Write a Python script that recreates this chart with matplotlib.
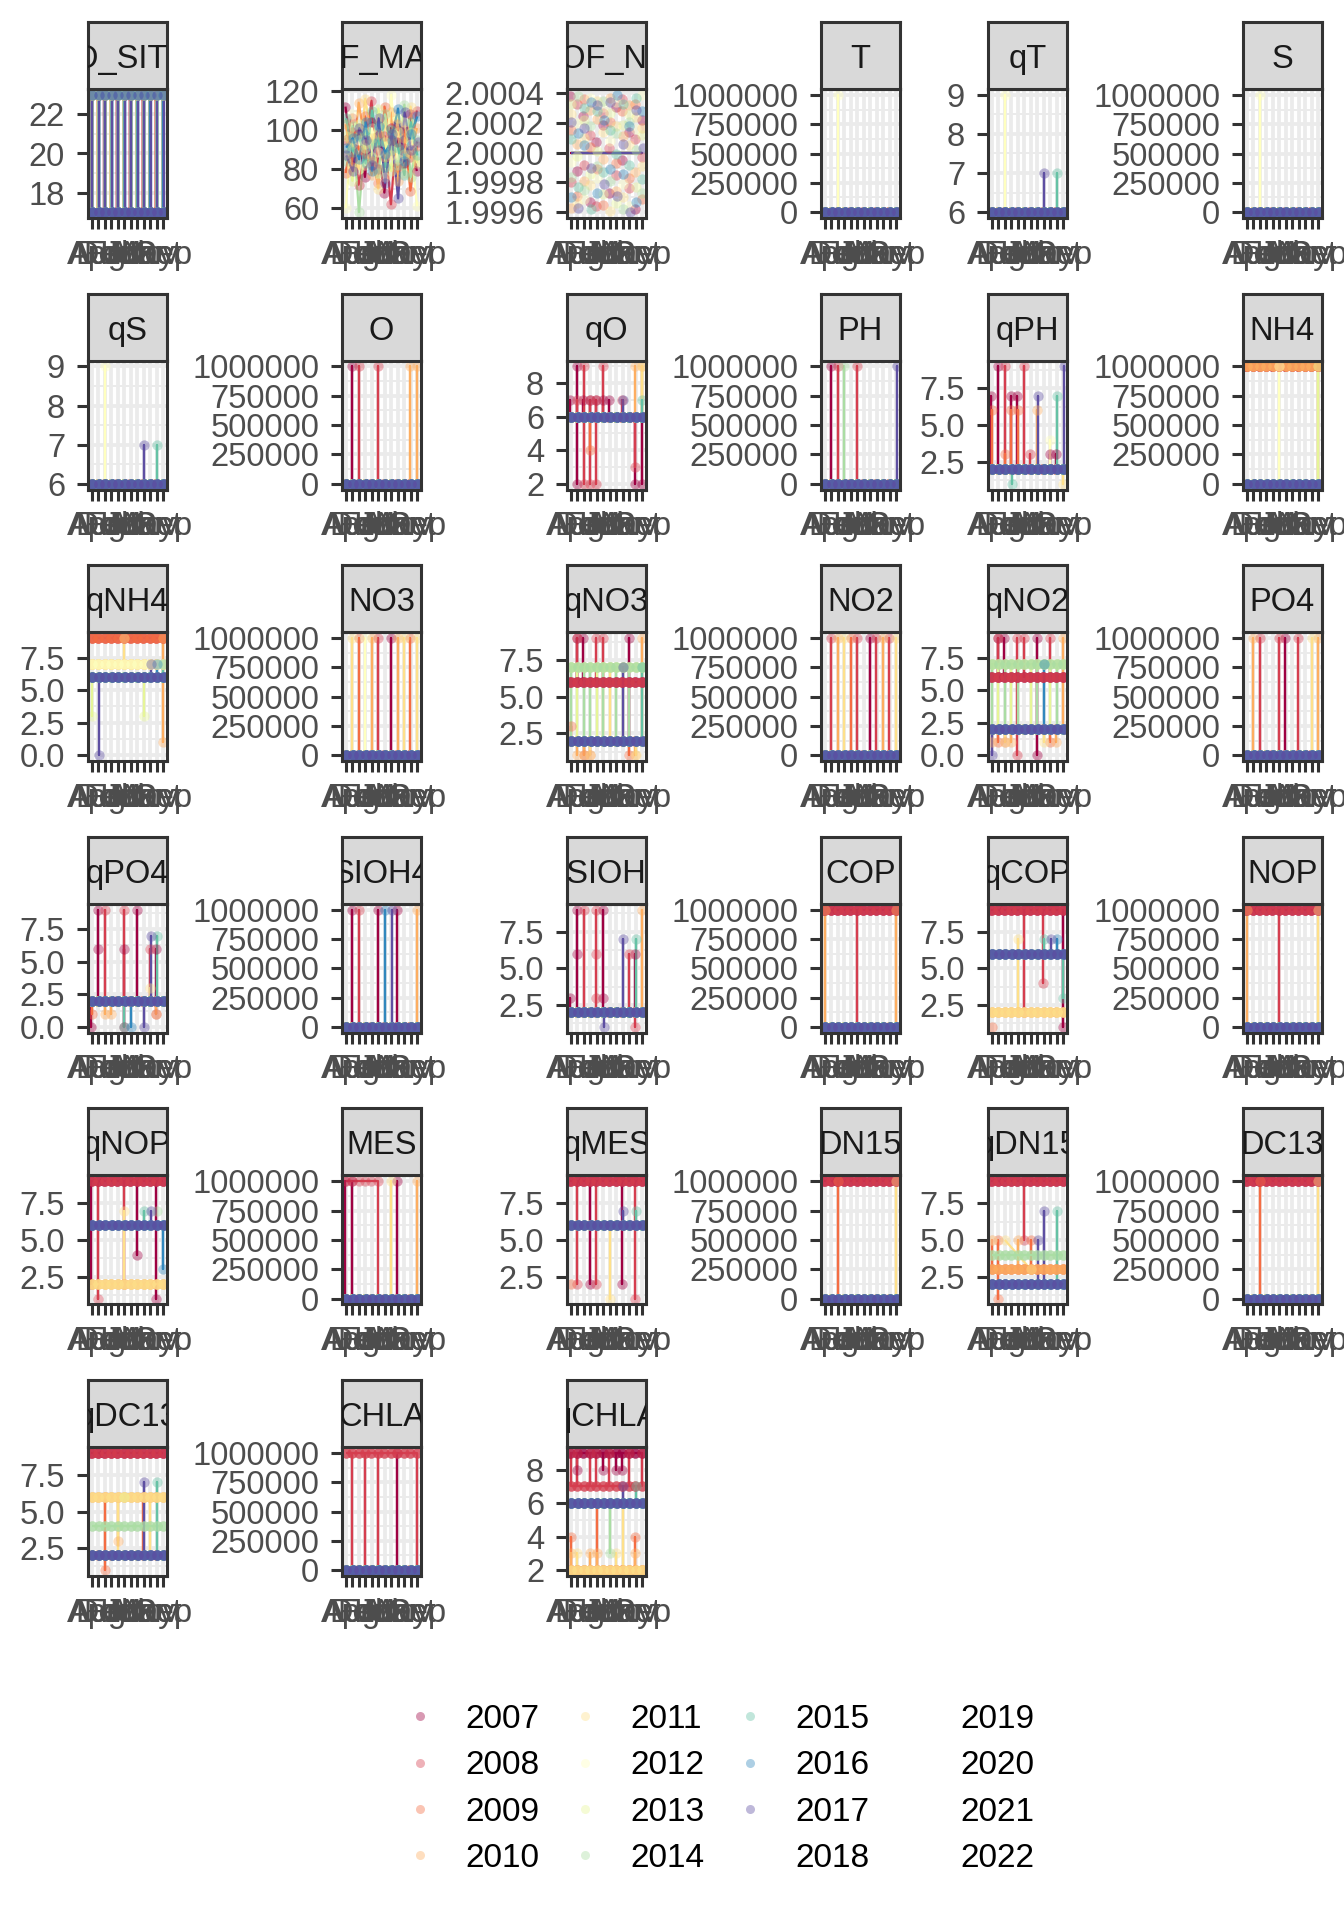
import numpy as np
import matplotlib
matplotlib.use('Agg')
import matplotlib.pyplot as plt
from matplotlib.lines import Line2D
from matplotlib.ticker import MultipleLocator, FormatStrFormatter

plt.rcParams['font.family'] = ['Liberation Sans', 'DejaVu Sans']

YEARS = list(range(2007, 2023))
# brewer "Spectral" has 11 colours, later years end up NA (not drawn)
SPECTRAL = ['#9E0142', '#D53E4F', '#F46D43', '#FDAE61', '#FEE08B', '#FFFFBF',
            '#E6F598', '#ABDDA4', '#66C2A5', '#3288BD', '#5E4FA2']
MONTHS = ['Apr', 'Aug', 'Dec', 'Feb', 'Jan', 'Jul', 'Jun', 'Mar', 'May', 'Nov', 'Oct', 'Sep']
ALL = [0, 1, 2, 3, 4, 5, 6, 7, 8, 9, 10, 11]
TOP = 999999
BASE_SAMPLES = 3   # samplings a month at the base level

# ---- data : base level per year (2007..2017) and extra points (year, months, value)
ID_SITE_base = [17, 17, 17, 17, 17, 17, 17, 17, 17, 17, 17]
ID_SITE_pts = [(2007, ALL, 23), (2008, ALL, 23), (2009, ALL, 23), (2010, ALL, 23),
               (2011, ALL, 23), (2012, ALL, 23), (2013, ALL, 23), (2014, ALL, 23),
               (2015, ALL, 23), (2016, ALL, 23), (2017, ALL, 23)]

COEF_MAREE_table = [
    [112, 85, 98, 76, 104, 90, 68, 101, 94, 83, 108, 79],
    [95, 106, 72, 88, 115, 80, 97, 62, 103, 91, 86, 110],
    [78, 99, 90, 107, 84, 73, 112, 95, 81, 100, 69, 92],
    [103, 81, 114, 93, 77, 98, 86, 109, 74, 96, 88, 101],
    [88, 93, 80, 116, 96, 70, 105, 87, 99, 78, 112, 84],
    [60, 108, 95, 82, 101, 89, 76, 118, 85, 104, 93, 61],
    [97, 74, 103, 91, 86, 111, 94, 79, 106, 88, 99, 83],
    [84, 102, 58, 99, 93, 78, 108, 90, 82, 113, 76, 95],
    [106, 89, 97, 83, 110, 94, 81, 100, 91, 77, 104, 87],
    [91, 96, 85, 104, 79, 102, 88, 95, 111, 84, 98, 107],
    [87, 79, 101, 95, 82, 106, 73, 98, 65, 109, 90, 94],
]
COEF_MAREE_base = [None] * 11
COEF_MAREE_pts = [(2007 + k, [m], v) for k, row in enumerate(COEF_MAREE_table)
                  for m, v in enumerate(row)]

PROF_NUM_base = [2.0, 2.0, 2.0, 2.0, 2.0, 2.0, 2.0, 2.0, 2.0, 2.0, 2.0]
PROF_NUM_pts = []
# point jitter (1e-5 units)
PROF_NUM_jitter = [
    [38, -12, 25, -33, 7, 19, -27, 31, -5, 14, -38, 22],
    [-20, 33, -8, 12, -36, 27, 3, -15, 36, -24, 9, -3],
    [15, -29, 36, 4, -11, -35, 21, -7, 28, -17, 33, -31],
    [-37, 6, -19, 29, 23, -4, 37, -26, 11, 32, -13, 17],
    [26, -34, 10, -22, 35, 14, -39, 18, -30, 5, 24, -9],
    [-6, 20, -31, 37, -17, 31, 8, 34, -21, -36, 16, 39],
    [33, -2, 22, -14, 1, -28, 27, -34, 19, 26, -23, 12],
    [-16, 38, -25, 18, -9, 35, -19, 13, -38, 21, 2, -27],
    [9, -23, 30, -38, 28, -13, 15, -1, 33, -8, 37, -18],
    [-30, 13, 5, 34, -27, 22, -11, 39, -14, 18, -33, 28],
    [21, -37, 17, -10, 32, -21, 34, -29, 6, -40, 29, 3],
]

T_base = [15, 15, 15, 15, 15, 15, 15, 15, 15, 15, 15]
T_pts = [(2012, [2], TOP)]
qT_base = [6, 6, 6, 6, 6, 6, 6, 6, 6, 6, 6]
qT_pts = [(2012, [2], 9), (2017, [8], 7), (2015, [10], 7)]
S_base = [35, 35, 35, 35, 35, 35, 35, 35, 35, 35, 35]
S_pts = [(2012, [2], TOP)]
qS_base = [6, 6, 6, 6, 6, 6, 6, 6, 6, 6, 6]
qS_pts = [(2012, [2], 9), (2017, [8], 7), (2015, [10], 7)]

O_base = [5.8, 5.8, 5.8, 5.8, 5.8, 5.8, 5.8, 5.8, 5.8, 5.8, 5.8]
O_pts = [(2007, [1], TOP), (2008, [2], TOP), (2008, [5], TOP), (2010, [10, 11], TOP)]
qO_base = [6, 6, 6, 6, 6, 6, 6, 6, 6, 6, 6]
qO_pts = [(2007, [0, 2, 3, 4, 5, 6], 7), (2007, [1], 9), (2007, [1], 2), (2007, [10, 11], 2),
          (2008, [1, 3, 4, 8], 7), (2008, [2, 5], 9), (2008, [2, 3, 4], 2), (2008, [10], 3),
          (2009, [3], 4), (2010, [10, 11], 9), (2011, [11], 9), (2015, [11], 7), (2017, [8], 7)]
PH_base = [8.1, 8.1, 8.1, 8.1, 8.1, 8.1, 8.1, 8.1, 8.1, 8.1, 8.1]
PH_pts = [(2007, [1], TOP), (2008, [2], TOP), (2014, [3], TOP), (2008, [5], TOP), (2017, [11], TOP)]
qPH_base = [2, 2, 2, 2, 2, 2, 2, 2, 2, 2, 2]
qPH_pts = [(2007, [0, 3, 4], 7), (2007, [1], 9), (2007, [9, 10], 3),
           (2008, [2], 9), (2008, [5], 9), (2008, [6], 3),
           (2009, [0, 3, 4], 6), (2009, [2], 3), (2010, [7], 6), (2012, [9], 4),
           (2015, [3], 1), (2015, [10], 7), (2017, [7], 7), (2017, [11], 9), (2011, [11], 1)]
NH4_base = [TOP, TOP, TOP, TOP, 0.4, 0.4, 0.4, 0.4, 0.4, 0.4, 0.4]
NH4_pts = [(2012, [5], TOP), (2010, [11], 0.4), (2013, [11], TOP)]

qNH4_base = [None, 9, 9, 7, 7, 7, 6, 6, 6, 6, 6]
qNH4_pts = [(2011, [5], 9), (2013, [0, 8], 3), (2010, [11], 9), (2010, [11], 1),
            (2017, [1], 0), (2017, [9], 7), (2016, [10], 7), (2015, [11], 7)]
NO3_base = [4.0, 4.0, 4.0, 4.0, 4.0, 4.0, 4.0, 4.0, 4.0, 4.0, 4.0]
NO3_pts = [(2011, [1], TOP), (2009, [2], TOP), (2012, [3], TOP), (2010, [4], TOP),
           (2008, [5], TOP), (2007, [7], TOP), (2010, [8], TOP), (2011, [9], TOP),
           (2009, [10], TOP), (2011, [11], TOP)]
qNO3_base = [6, 6, 2, 2, 2, 2, 7, 7, 2, 2, 2]
qNO3_pts = [(2007, [1, 2], 9), (2007, [9], 9), (2007, [9], 2), (2008, [1, 4, 5], 9),
            (2009, [0], 3), (2009, [2, 3, 9], 1), (2010, [1, 2, 10], 1), (2010, [11], 9),
            (2011, [3, 10], 1), (2011, [5, 6], 7), (2013, [1, 4, 8], 2),
            (2014, [0, 2, 3, 5, 7, 9], 2), (2015, [11], 7), (2017, [8], 7)]
NO2_base = [0.2, 0.2, 0.2, 0.2, 0.2, 0.2, 0.2, 0.2, 0.2, 0.2, 0.2]
NO2_pts = [(2008, [1], TOP), (2010, [2], TOP), (2011, [3], TOP), (2009, [4], TOP),
           (2008, [5], TOP), (2007, [7], TOP), (2008, [8], TOP), (2010, [9], TOP),
           (2008, [10], TOP), (2011, [11], TOP)]
qNO2_base = [6, 6, 2, 2, 2, 2, 7, 7, 2, 2, 2]
qNO2_pts = [(2007, [1, 2], 9), (2007, [7], 9), (2007, [7], 0), (2008, [1, 4, 5, 9], 9),
            (2008, [4], 0), (2009, [1, 2, 9], 1), (2010, [0, 3, 10], 1), (2010, [11], 9),
            (2011, [2, 8], 1), (2013, [1, 3, 6, 9], 2), (2014, [0, 2, 4, 7, 10], 2),
            (2015, [1], 2), (2016, [8], 7), (2017, [0], 0)]
PO4_base = [0.3, 0.3, 0.3, 0.3, 0.3, 0.3, 0.3, 0.3, 0.3, 0.3, 0.3]
PO4_pts = [(2010, [1], TOP), (2008, [2], TOP), (2008, [5], TOP), (2007, [6], TOP),
           (2008, [8], TOP), (2011, [10], TOP), (2010, [11], TOP)]

qPO4_base = [2, 2, 2, 2, 2, 2, 2, 2, 2, 2, 2]
qPO4_pts = [(2007, [0], 0), (2007, [1], 9), (2007, [1], 6), (2007, [5], 6), (2007, [5], 0),
            (2007, [7], 9), (2007, [10], 6), (2008, [2], 9), (2008, [5], 9),
            (2008, [9], 6), (2008, [10], 1), (2009, [0], 1), (2010, [2, 3], 1), (2010, [10], 1),
            (2011, [9], 3), (2015, [10], 7), (2015, [5], 0), (2016, [6], 0), (2017, [9], 7),
            (2017, [8], 0)]
SIOH4_base = [3.5, 3.5, 3.5, 3.5, 3.5, 3.5, 3.5, 3.5, 3.5, 3.5, 3.5]
SIOH4_pts = [(2007, [1], TOP), (2008, [2], TOP), (2007, [5], TOP), (2016, [6], TOP),
             (2017, [7], TOP), (2007, [8], TOP), (2010, [11], TOP)]
qSIOH4_base = [2, 2, 2, 2, 2, 2, 2, 2, 2, 2, 2]
qSIOH4_pts = [(2007, [0], 3), (2007, [1], 9), (2007, [1], 6), (2007, [5], 9), (2007, [5], 3),
              (2007, [10], 6), (2008, [2], 9), (2008, [4], 9), (2008, [4], 6), (2008, [4], 3),
              (2008, [9], 6), (2008, [10], 1), (2010, [11], 9), (2015, [10], 7),
              (2017, [8], 7), (2017, [5], 1)]
COP_base = [TOP, TOP, 350, 350, 350, 350, 350, 350, 350, 350, 350]
COP_pts = [(2008, [5], 350), (2010, [0], TOP), (2010, [11], TOP)]
qCOP_base = [9, 9, None, 2, 2, None, None, None, 6, 6, 6]
qCOP_pts = [(2008, [5], 2), (2009, [0], 1), (2011, [4], 7), (2015, [8], 7), (2015, [11], 3),
            (2016, [10], 7), (2017, [9], 7), (2007, [11], 1), (2008, [8], 4)]
NOP_base = [TOP, TOP, 45, 45, 45, 45, 45, 45, 45, 45, 45]
NOP_pts = [(2008, [5], 45), (2010, [0], TOP), (2011, [11], TOP)]

qNOP_base = [9, 9, None, 2, 2, None, None, None, 6, 6, 6]
qNOP_pts = [(2007, [0], 2), (2008, [1], 1), (2008, [5], 2), (2011, [5], 7), (2015, [8], 7),
            (2017, [9], 7), (2014, [10], 7), (2016, [11], 3), (2007, [7], 4), (2007, [10], 1)]
MES_base = [6, None, 6, 6, 6, 6, 6, 6, 6, 6, 6]
MES_pts = [(2007, [0, 1, 8], TOP), (2008, [0, 1, 2, 3, 4, 5], TOP), (2008, [5], 6),
           (2011, [7], TOP), (2010, [11], TOP)]
qMES_base = [9, 9, None, None, 6, None, None, None, 6, 6, 6]
qMES_pts = [(2007, [3], 2), (2007, [8], 2), (2008, [1], 2), (2008, [4], 2), (2008, [10], 1),
            (2011, [6], 1), (2015, [10], 7), (2017, [8], 7), (2009, [0], 2)]
DN15_base = [TOP, TOP, 6, 6, 6, 6, 6, 6, 6, 6, 6]
DN15_pts = [(2009, [2], TOP), (2011, [11], TOP)]
qDN15_base = [9, 9, 3, 3, None, None, None, 4, 2, 2, 2]
qDN15_pts = [(2009, [0, 6], 5), (2009, [1], 5), (2009, [1], 1), (2010, [4], 5),
             (2011, [2], 5), (2011, [6], 3), (2012, [0], 5), (2015, [10], 7),
             (2017, [8], 7), (2017, [7], 5), (2008, [5], 5)]
DC13_base = [TOP, TOP, -21, -21, -21, -21, -21, -21, -21, -21, -21]
DC13_pts = [(2009, [2], TOP), (2011, [11], TOP)]

qDC13_base = [9, 9, 2, 6, 6, None, None, 4, 2, 2, 2]
qDC13_pts = [(2009, [2], 6), (2009, [2], 1), (2009, [8], 6), (2010, [4], 3),
             (2011, [4], 2), (2011, [9], 2), (2015, [10], 7), (2017, [8], 7), (2013, [5], 6)]
CHLA_base = [1.5, TOP, 1.5, 1.5, 1.5, 1.5, 1.5, 1.5, 1.5, 1.5, 1.5]
CHLA_pts = [(2008, [1, 3, 5, 11], 1.5), (2007, [8], TOP)]
qCHLA_base = [9, 7, 2, 2, 2, None, None, 6, 6, 6, 6]
qCHLA_pts = [(2007, [1, 5, 7, 8], 8), (2008, [0, 1, 3, 4, 6, 9, 11], 9),
             (2009, [0], 4), (2009, [4], 6), (2009, [10], 4), (2010, [0, 3, 4, 10], 3),
             (2011, [1, 7], 3), (2011, [8], 6), (2014, [6], 3), (2015, [10], 7), (2017, [8], 7)]

PANELS = [
    ('ID_SITE', ID_SITE_base, ID_SITE_pts), ('COEF_MAREE', COEF_MAREE_base, COEF_MAREE_pts),
    ('PROF_NUM', PROF_NUM_base, PROF_NUM_pts), ('T', T_base, T_pts), ('qT', qT_base, qT_pts),
    ('S', S_base, S_pts), ('qS', qS_base, qS_pts), ('O', O_base, O_pts), ('qO', qO_base, qO_pts),
    ('PH', PH_base, PH_pts), ('qPH', qPH_base, qPH_pts), ('NH4', NH4_base, NH4_pts),
    ('qNH4', qNH4_base, qNH4_pts), ('NO3', NO3_base, NO3_pts), ('qNO3', qNO3_base, qNO3_pts),
    ('NO2', NO2_base, NO2_pts), ('qNO2', qNO2_base, qNO2_pts), ('PO4', PO4_base, PO4_pts),
    ('qPO4', qPO4_base, qPO4_pts), ('SIOH4', SIOH4_base, SIOH4_pts),
    ('qSIOH4', qSIOH4_base, qSIOH4_pts), ('COP', COP_base, COP_pts), ('qCOP', qCOP_base, qCOP_pts),
    ('NOP', NOP_base, NOP_pts), ('qNOP', qNOP_base, qNOP_pts), ('MES', MES_base, MES_pts),
    ('qMES', qMES_base, qMES_pts), ('DN15', DN15_base, DN15_pts), ('qDN15', qDN15_base, qDN15_pts),
    ('DC13', DC13_base, DC13_pts), ('qDC13', qDC13_base, qDC13_pts), ('CHLA', CHLA_base, CHLA_pts),
    ('qCHLA', qCHLA_base, qCHLA_pts),
]
JITTER = {'PROF_NUM': PROF_NUM_jitter}

# y axis breaks (major, minor, format)
BIG = (250000, 125000, '%d')
Q25 = (2.5, 1.25, '%.1f')
YAXIS = {'ID_SITE': (2, 1, '%d'), 'COEF_MAREE': (20, 10, '%d'),
         'PROF_NUM': (0.0002, 0.0001, '%.4f'), 'qT': (1, 0.5, '%d'), 'qS': (1, 0.5, '%d'),
         'qO': (2, 1, '%d'), 'qCHLA': (2, 1, '%d')}
for name in ['T', 'S', 'O', 'PH', 'NH4', 'NO3', 'NO2', 'PO4', 'SIOH4', 'COP', 'NOP',
             'MES', 'DN15', 'DC13', 'CHLA']:
    YAXIS[name] = BIG
for name in ['qPH', 'qNH4', 'qNO3', 'qNO2', 'qPO4', 'qSIOH4', 'qCOP', 'qNOP', 'qMES',
             'qDN15', 'qDC13']:
    YAXIS[name] = Q25

# ---- layout (pixels)
FW, FH = 1344, 1920
COL_X = [88, 342, 567, 821, 988, 1243]
PW, STRIP_H, PANEL_H = 79, 67, 129
ROW_PITCH = 271.6

DARK = '#333333'
GRID = '#EBEBEB'
TXT = 23.5


def draw_panel(ax, title, base, pts):
    jit = JITTER.get(title)
    all_y = []
    paths, dots = [], []
    for k in range(11):
        year = YEARS[k]
        b = base[k]
        extra = [(m, v) for (yr, months, v) in pts if yr == year for m in months]
        if b is None and not extra:
            continue
        dx = (k - 5) * 0.012
        xs, ys, px, py = [], [], [], []
        for m in range(12):
            vals = [v for mm, v in extra if mm == m]
            seq = ([b] if b is not None else []) + vals
            if b is not None and vals:
                seq = seq + [b]
            xs += [m + dx] * len(seq)
            ys += seq
            if b is not None:
                if jit:
                    px.append(m + dx)
                    py.append(b + jit[k][m] * 1e-5)
                else:
                    px += [m + dx] * BASE_SAMPLES
                    py += [b] * BASE_SAMPLES
            px += [m + dx] * len(vals)
            py += vals
        paths.append((xs, ys, SPECTRAL[k]))
        dots.append((px, py, SPECTRAL[k]))
        all_y += ys + py

    for xs, ys, col in paths:
        ax.plot(xs, ys, color=col, lw=1.6, zorder=2, solid_capstyle='butt')
    for px, py, col in dots:
        ax.scatter(px, py, s=55, color=col, alpha=0.4, linewidths=0, zorder=2.2)

    lo, hi = min(all_y), max(all_y)
    r = hi - lo
    ax.set_ylim(lo - 0.05 * r, hi + 0.05 * r)
    ax.set_xlim(-0.6, 11.6)

    major, minor, fmt = YAXIS[title]
    ax.yaxis.set_major_locator(MultipleLocator(major))
    ax.yaxis.set_minor_locator(MultipleLocator(minor))
    ax.yaxis.set_major_formatter(FormatStrFormatter(fmt))
    ax.set_xticks(range(12))
    ax.set_xticklabels(MONTHS)

    ax.set_facecolor('white')
    ax.set_axisbelow(True)
    ax.grid(which='major', color=GRID, lw=2.7)
    ax.grid(which='minor', axis='y', color=GRID, lw=1.4)
    for sp in ax.spines.values():
        sp.set_linewidth(2.2)
        sp.set_color(DARK)
        sp.set_zorder(4)
    ax.tick_params(which='major', length=8, width=2.2, color=DARK,
                   labelsize=TXT, labelcolor='#4D4D4D')
    ax.tick_params(axis='y', which='major', pad=8.5)
    ax.tick_params(axis='x', which='major', pad=7.5)
    ax.tick_params(which='minor', length=0)


fig = plt.figure(figsize=(FW / 100, FH / 100), dpi=100)

for i, (title, base, pts) in enumerate(PANELS):
    r, c = divmod(i, 6)
    top = 22 + ROW_PITCH * r
    x0 = COL_X[c] / FW
    ax = fig.add_axes([x0, 1 - (top + STRIP_H + PANEL_H) / FH, PW / FW, PANEL_H / FH])
    draw_panel(ax, title, base, pts)

    sax = fig.add_axes([x0, 1 - (top + STRIP_H) / FH, PW / FW, STRIP_H / FH])
    sax.set_facecolor('#D9D9D9')
    sax.set_xticks([])
    sax.set_yticks([])
    for sp in sax.spines.values():
        sp.set_linewidth(2.2)
        sp.set_color(DARK)
    t = sax.text(0.5, 0.44, title, transform=sax.transAxes, ha='center', va='center',
                 fontsize=TXT, color='#1A1A1A', clip_on=True)
    t.set_clip_path(sax.patch)

# legend
handles = []
for k, year in enumerate(YEARS):
    if k < len(SPECTRAL):
        handles.append(Line2D([], [], ls='none', marker='o', markersize=6.5,
                              markerfacecolor=SPECTRAL[k], markeredgecolor='none', alpha=0.4))
    else:
        handles.append(Line2D([], [], ls='none', marker=None))
fig.legend(handles, [str(y) for y in YEARS], ncol=4, loc='upper left',
           bbox_to_anchor=(410 / FW, 1 - 1704 / FH), frameon=False, fontsize=24,
           handlelength=0.6, handletextpad=1.05, columnspacing=1.08,
           labelspacing=0.46, borderpad=0, borderaxespad=0)

fig.savefig('out.png', dpi=100)
